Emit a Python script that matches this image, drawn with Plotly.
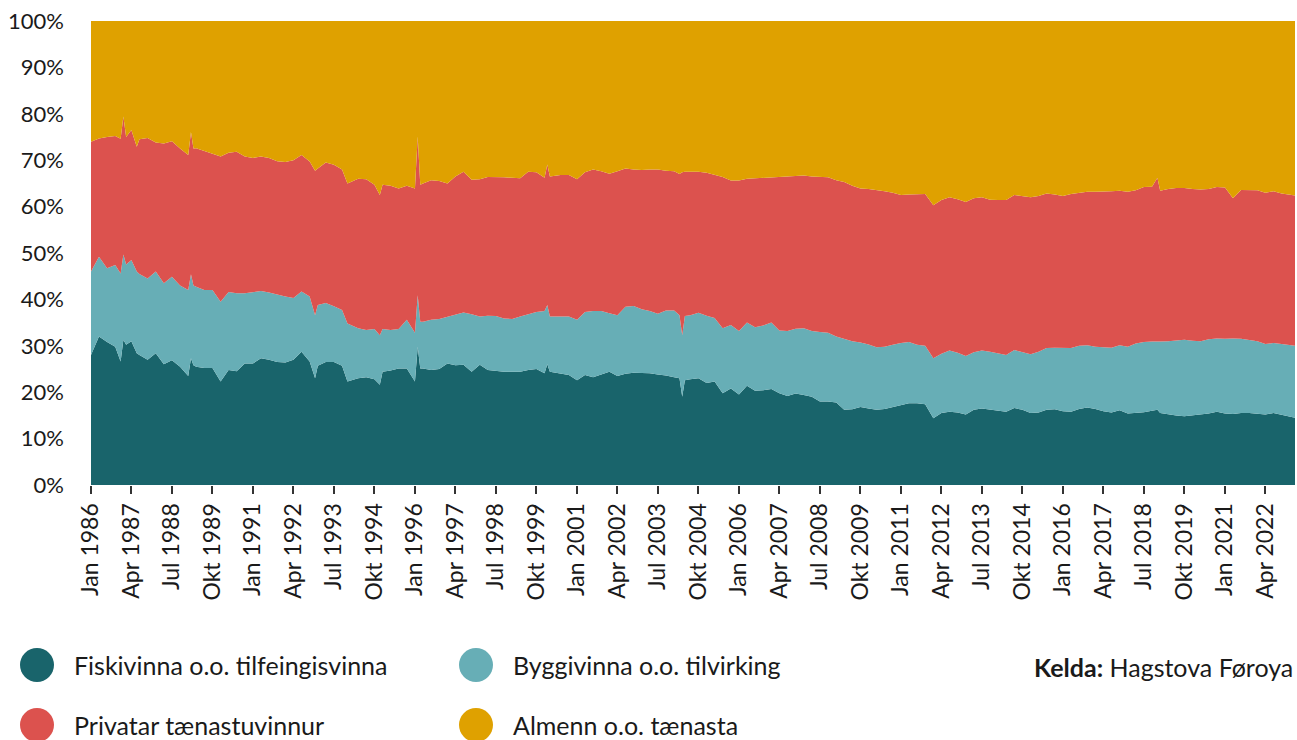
"""Stacked share chart: employment by sector, Faroe Islands, 1986-2023."""

import pandas as pd
import plotly.graph_objects as go

COLORS = {
    "fisk": "#19646b",
    "bygg": "#67aeb6",
    "priv": "#dc524e",
    "almenn": "#dfa100",
    "text": "#1a1a1a",
}

# month of each reading (quarterly, plus the odd month where a spike shows)
months = [
    "1986-01", "1986-04", "1986-07", "1986-10", "1986-12", "1987-01", "1987-02", "1987-04",
    "1987-06", "1987-07", "1987-10", "1988-01", "1988-04", "1988-07", "1988-10", "1989-01",
    "1989-02", "1989-03", "1989-04", "1989-07", "1989-10", "1990-01", "1990-04", "1990-07",
    "1990-10", "1991-01", "1991-04", "1991-07", "1991-10", "1992-01", "1992-04", "1992-07",
    "1992-10", "1992-12", "1993-01", "1993-04", "1993-07", "1993-10", "1993-12", "1994-04",
    "1994-07", "1994-10", "1994-12", "1995-01", "1995-04", "1995-07", "1995-10", "1996-01",
    "1996-02", "1996-03", "1996-04", "1996-07", "1996-10", "1997-01", "1997-04", "1997-07",
    "1997-10", "1998-01", "1998-04", "1998-07", "1998-10", "1999-01", "1999-04", "1999-07",
    "1999-10", "2000-01", "2000-02", "2000-03", "2000-07", "2000-10", "2001-01", "2001-04",
    "2001-07", "2001-10", "2002-01", "2002-04", "2002-07", "2002-10", "2003-01", "2003-04",
    "2003-07", "2003-10", "2004-01", "2004-03", "2004-04", "2004-05", "2004-07", "2004-10",
    "2005-01", "2005-04", "2005-07", "2005-10", "2006-01", "2006-04", "2006-07", "2006-10",
    "2007-01", "2007-04", "2007-07", "2007-10", "2008-01", "2008-04", "2008-07", "2008-10",
    "2009-01", "2009-04", "2009-07", "2009-10", "2010-01", "2010-04", "2010-07", "2010-10",
    "2011-01", "2011-04", "2011-07", "2011-10", "2012-01", "2012-04", "2012-07", "2012-10",
    "2013-01", "2013-04", "2013-07", "2013-10", "2014-01", "2014-04", "2014-07", "2014-10",
    "2015-01", "2015-04", "2015-07", "2015-10", "2016-01", "2016-04", "2016-07", "2016-10",
    "2017-01", "2017-04", "2017-07", "2017-10", "2018-01", "2018-04", "2018-07", "2018-10",
    "2018-12", "2019-01", "2019-04", "2019-07", "2019-10", "2020-01", "2020-04", "2020-07",
    "2020-10", "2021-01", "2021-04", "2021-07", "2021-10", "2022-01", "2022-04", "2022-07",
    "2022-10", "2023-01", "2023-03",
]

# shares in percent
fiskivinna = [
    28.0, 32.0, 30.8, 29.8, 26.6, 31.3, 30.2, 31.0, 28.4, 28.0, 27.0, 28.4, 26.0, 26.9, 25.5, 23.5,
    27.3, 25.8, 25.5, 25.2, 25.2, 22.3, 24.8, 24.5, 26.2, 26.2, 27.3, 27.0, 26.5, 26.4, 27.0, 28.7,
    26.6, 23.0, 25.7, 26.5, 26.5, 25.7, 22.3, 23.0, 23.2, 22.8, 21.6, 24.4, 24.7, 25.1, 25.1, 22.3,
    29.8, 25.1, 25.1, 24.8, 25.0, 26.2, 25.8, 25.9, 24.4, 25.9, 24.8, 24.6, 24.4, 24.4, 24.4, 24.8,
    25.0, 24.1, 26.0, 24.4, 24.0, 23.7, 22.6, 23.7, 23.2, 23.8, 24.4, 23.5, 24.0, 24.2, 24.1, 24.1,
    23.8, 23.6, 23.2, 23.0, 19.0, 22.6, 22.8, 23.0, 22.0, 22.3, 19.8, 20.8, 19.5, 21.4, 20.3, 20.4,
    20.7, 19.8, 19.2, 19.7, 19.4, 19.0, 18.0, 18.0, 17.8, 16.2, 16.3, 16.8, 16.5, 16.2, 16.4, 16.8,
    17.3, 17.6, 17.6, 17.4, 14.4, 15.5, 15.8, 15.6, 15.2, 16.2, 16.5, 16.3, 16.0, 15.8, 16.6, 16.2,
    15.5, 15.6, 16.2, 16.3, 15.9, 15.8, 16.4, 16.7, 16.4, 15.9, 15.6, 16.1, 15.4, 15.5, 15.7, 16.0,
    16.2, 15.5, 15.2, 15.0, 14.8, 15.0, 15.2, 15.4, 15.8, 15.4, 15.3, 15.5, 15.5, 15.3, 15.2, 15.5,
    15.1, 14.7, 14.5,
]
byggivinna = [
    18.0, 17.2, 15.9, 17.6, 19.0, 18.4, 17.3, 17.5, 17.6, 17.5, 17.5, 17.6, 17.5, 18.0, 17.5, 18.5,
    18.1, 17.2, 17.2, 16.8, 16.8, 17.2, 16.8, 16.8, 15.1, 15.3, 14.5, 14.5, 14.5, 14.2, 13.3, 13.0,
    14.0, 13.6, 13.1, 12.7, 12.0, 12.0, 12.5, 10.8, 10.2, 10.8, 10.7, 9.2, 8.7, 8.5, 10.5, 10.5,
    11.1, 10.1, 10.1, 10.8, 10.8, 10.1, 11.0, 11.3, 12.4, 10.4, 11.7, 11.8, 11.5, 11.4, 11.9, 12.0,
    12.3, 13.4, 12.8, 11.9, 12.3, 12.6, 13.0, 13.6, 14.3, 13.7, 12.6, 13.1, 14.4, 14.4, 13.8, 13.4,
    13.1, 14.0, 14.4, 13.6, 13.3, 13.8, 13.8, 14.1, 14.5, 13.7, 14.0, 13.7, 13.7, 13.6, 13.7, 14.0,
    14.3, 13.5, 14.0, 14.0, 14.4, 14.2, 15.0, 14.8, 14.2, 15.3, 14.7, 13.9, 13.8, 13.5, 13.4, 13.4,
    13.3, 13.2, 12.6, 12.6, 12.9, 12.8, 13.2, 12.9, 12.6, 12.4, 12.5, 12.4, 12.3, 12.2, 12.5, 12.4,
    12.7, 13.1, 13.3, 13.3, 13.6, 13.7, 13.6, 13.4, 13.4, 13.8, 14.0, 14.0, 14.4, 15.0, 15.1, 14.9,
    14.8, 15.4, 15.8, 16.2, 16.5, 16.1, 15.8, 16.0, 15.8, 16.1, 16.3, 16.0, 15.8, 15.7, 15.2, 15.1,
    15.3, 15.5, 15.5,
]
privatar = [
    28.0, 25.5, 28.3, 27.8, 29.0, 29.7, 27.5, 28.0, 26.9, 29.0, 30.3, 27.8, 30.1, 29.2, 29.5, 29.1,
    30.7, 29.5, 29.9, 30.0, 29.5, 31.3, 30.0, 30.5, 29.5, 29.0, 29.0, 29.0, 28.8, 29.0, 29.7, 29.4,
    29.1, 31.1, 29.4, 30.3, 30.5, 30.3, 30.2, 32.2, 32.5, 31.1, 30.2, 31.1, 31.1, 30.3, 28.9, 31.1,
    34.2, 29.5, 29.8, 30.1, 29.7, 28.7, 29.7, 30.3, 29.0, 29.6, 29.9, 30.0, 30.4, 30.4, 29.8, 30.7,
    30.1, 28.7, 30.3, 30.2, 30.5, 30.5, 30.3, 30.1, 30.5, 30.1, 30.1, 31.0, 29.8, 29.4, 30.0, 30.5,
    31.1, 30.1, 30.0, 30.4, 35.1, 31.1, 30.9, 30.4, 30.8, 30.9, 32.6, 31.1, 32.4, 31.0, 32.1, 31.8,
    31.2, 33.0, 33.2, 32.9, 32.9, 33.3, 33.4, 33.5, 33.7, 33.8, 33.5, 33.2, 33.5, 33.9, 33.5, 32.8,
    31.9, 31.8, 32.5, 32.7, 33.0, 33.1, 33.0, 33.1, 33.2, 33.2, 33.0, 32.8, 33.1, 33.4, 33.4, 33.7,
    33.8, 33.6, 33.3, 33.0, 32.8, 33.2, 33.0, 33.1, 33.4, 33.5, 33.7, 33.3, 33.4, 33.0, 33.4, 33.4,
    35.2, 32.5, 32.8, 32.8, 32.7, 32.7, 32.7, 32.4, 32.6, 32.6, 30.2, 32.1, 32.3, 32.5, 32.6, 32.7,
    32.4, 32.3, 32.4,
]
almenn = [
    26.0, 25.3, 25.0, 24.8, 25.4, 20.6, 25.0, 23.5, 27.1, 25.5, 25.2, 26.2, 26.4, 25.9, 27.5, 28.9,
    23.9, 27.5, 27.4, 28.0, 28.5, 29.2, 28.4, 28.2, 29.2, 29.5, 29.2, 29.5, 30.2, 30.4, 30.0, 28.9,
    30.3, 32.3, 31.8, 30.5, 31.0, 32.0, 35.0, 34.0, 34.1, 35.3, 37.5, 35.3, 35.5, 36.1, 35.5, 36.1,
    24.9, 35.3, 35.0, 34.3, 34.5, 35.0, 33.5, 32.5, 34.2, 34.1, 33.6, 33.6, 33.7, 33.8, 33.9, 32.5,
    32.6, 33.8, 30.9, 33.5, 33.2, 33.2, 34.1, 32.6, 32.0, 32.4, 32.9, 32.4, 31.8, 32.0, 32.1, 32.0,
    32.0, 32.3, 32.4, 33.0, 32.6, 32.5, 32.5, 32.5, 32.7, 33.1, 33.6, 34.4, 34.4, 34.0, 33.9, 33.8,
    33.8, 33.7, 33.6, 33.4, 33.3, 33.5, 33.6, 33.7, 34.3, 34.7, 35.5, 36.1, 36.2, 36.4, 36.7, 37.0,
    37.5, 37.4, 37.3, 37.3, 39.7, 38.6, 38.0, 38.4, 39.0, 38.2, 38.0, 38.5, 38.6, 38.6, 37.5, 37.7,
    38.0, 37.7, 37.2, 37.4, 37.7, 37.3, 37.0, 36.8, 36.8, 36.8, 36.7, 36.6, 36.8, 36.5, 35.8, 35.7,
    33.8, 36.6, 36.2, 36.0, 36.0, 36.2, 36.3, 36.2, 35.8, 35.9, 38.2, 36.4, 36.4, 36.5, 37.0, 36.7,
    37.2, 37.5, 37.6,
]

series = [
    ("Fiskivinna o.o. tilfeingisvinna", fiskivinna, COLORS["fisk"]),
    ("Byggivinna o.o. tilvirking", byggivinna, COLORS["bygg"]),
    ("Privatar tænastuvinnur", privatar, COLORS["priv"]),
    ("Almenn o.o. tænasta", almenn, COLORS["almenn"]),
]

MONTH_NAMES = {1: "Jan", 4: "Apr", 7: "Jul", 10: "Okt"}
tick_dates = pd.date_range("1986-01-01", "2022-04-01", freq="15MS")
tick_text = [f"{MONTH_NAMES[d.month]} {d.year}" for d in tick_dates]

x_dates = pd.to_datetime(months)

fig = go.Figure()
for name, values, color in series:
    fig.add_trace(
        go.Scatter(
            x=x_dates,
            y=values,
            name=name,
            mode="lines",
            stackgroup="one",
            groupnorm="percent",
            line=dict(width=0, color=color),
            fillcolor=color,
            hovertemplate="%{x|%b %Y}: %{y:.1f}%<extra>" + name + "</extra>",
        )
    )

FONT = "Lato, 'Open Sans', sans-serif"

fig.update_layout(
    width=1297,
    height=740,
    margin=dict(l=91, r=2, t=21, b=255),
    paper_bgcolor="white",
    plot_bgcolor="white",
    showlegend=False,
    font=dict(family=FONT, size=20, color=COLORS["text"]),
    xaxis=dict(
        type="date",
        range=[x_dates[0], x_dates[-1]],
        tickvals=tick_dates,
        ticktext=tick_text,
        tickangle=-90,
        ticks="outside",
        ticklen=8,
        tickwidth=1.5,
        tickcolor="#333333",
        showgrid=False,
        showline=False,
        zeroline=False,
        tickfont=dict(size=23),
    ),
    yaxis=dict(
        range=[0, 100],
        dtick=10,
        ticksuffix="%",
        showgrid=False,
        showline=False,
        zeroline=False,
        ticklabelstandoff=26,
        ticklabeloverflow="allow",
        tickfont=dict(size=22),
    ),
)

# legend drawn by hand: big dots in two columns under the axis
# (positions given in page pixels, converted to paper units)
PLOT_LEFT, PLOT_BOTTOM, PLOT_W, PLOT_H = 91, 485, 1204, 464
legend_items = [
    (series[0][0], series[0][2], 37, 665),
    (series[1][0], series[1][2], 476, 665),
    (series[2][0], series[2][2], 37, 725),
    (series[3][0], series[3][2], 476, 725),
]
for label, color, px_x, px_y in legend_items:
    ax = (px_x - PLOT_LEFT) / PLOT_W
    ay = (PLOT_BOTTOM - px_y) / PLOT_H
    fig.add_shape(
        type="circle",
        xref="paper", yref="paper",
        xsizemode="pixel", ysizemode="pixel",
        xanchor=ax, yanchor=ay,
        x0=-17, x1=17, y0=-17, y1=17,
        fillcolor=color, line=dict(width=0),
    )
    fig.add_annotation(
        x=(px_x + 35 - PLOT_LEFT) / PLOT_W, y=ay,
        xref="paper", yref="paper",
        text=label, showarrow=False,
        xanchor="left", yanchor="middle",
        font=dict(size=25, color=COLORS["text"]),
    )

fig.add_annotation(
    x=1.0, y=(PLOT_BOTTOM - 667) / PLOT_H,
    xref="paper", yref="paper",
    text="<b>Kelda:</b> Hagstova Føroya",
    showarrow=False, xanchor="right", yanchor="middle",
    font=dict(size=25, color=COLORS["text"]),
)

# drop the browser's default 8px page margin so the figure sits at (0, 0)
fig.write_html(
    "out.html",
    config={"displayModeBar": False},
    post_script="document.body.style.margin='0';document.body.style.overflow='hidden';",
)
